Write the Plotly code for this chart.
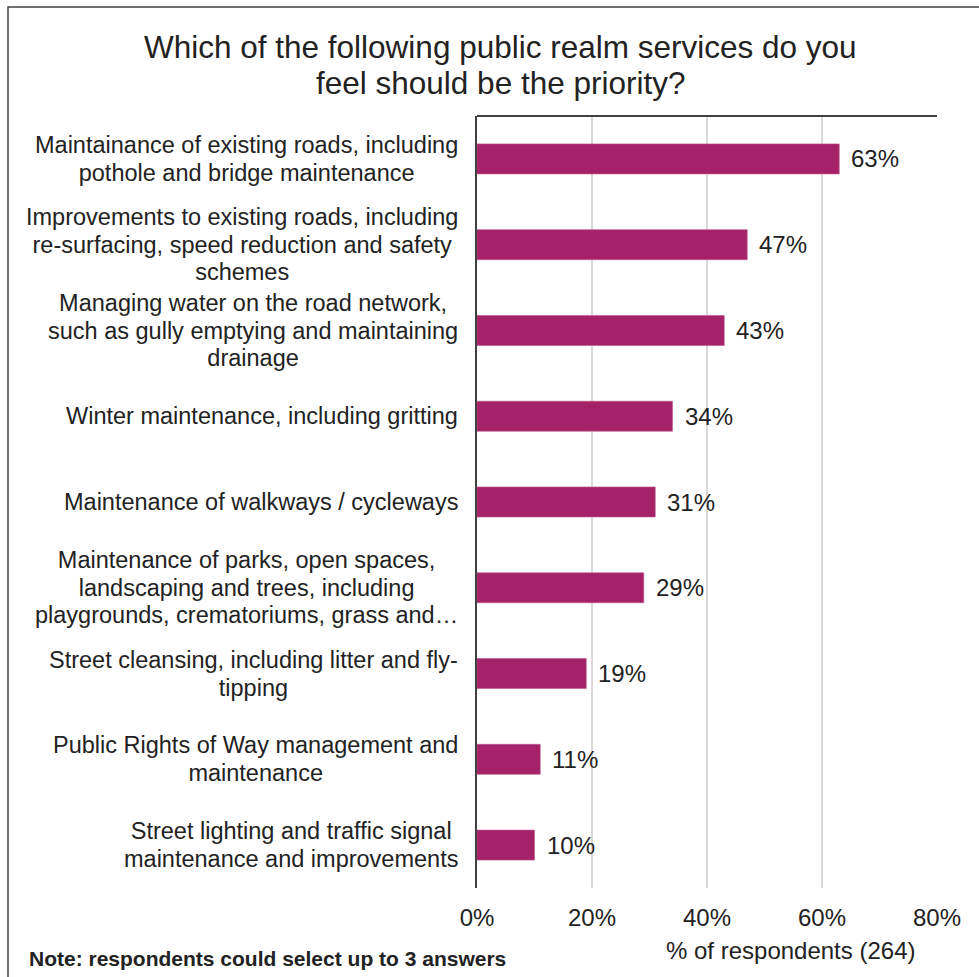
import plotly.graph_objects as go

# Survey results: share of respondents choosing each service as a priority
services = [
    "Maintainance of existing roads, including<br>pothole and bridge maintenance",
    "Improvements to existing roads, including<br>re-surfacing, speed reduction and safety<br>schemes",
    "Managing water on the road network,<br>such as gully emptying and maintaining<br>drainage",
    "Winter maintenance, including gritting",
    "Maintenance of walkways / cycleways",
    "Maintenance of parks, open spaces,<br>landscaping and trees, including<br>playgrounds, crematoriums, grass and…",
    "Street cleansing, including litter and fly-<br>tipping",
    "Public Rights of Way management and<br>maintenance",
    "Street lighting and traffic signal<br>maintenance and improvements",
]
percent = [63, 47, 43, 34, 31, 29, 19, 11, 10]

x_ticks = [0, 20, 40, 60, 80]
x_tick_labels = ["0%", "20%", "40%", "60%", "80%"]

title_lines = ["Which of the following public realm services do you",
               "feel should be the priority?"]
axis_title = "% of respondents (264)"
note_text = "<b>Note: respondents could select up to 3 answers</b>"

FONT = "Liberation Sans, Arial, sans-serif"
TEXT = "#222222"
BAR = "#A52269"
GRID = "#DDD8D8"
FRAME = "#404040"

W, H = 979, 977
L, R, T, B = 477, 42, 116, 89
PW, PH = W - L - R, H - T - B


def py(pixel_y):
    """Convert a page y position (pixels from top) to paper coordinates."""
    return (H - B - pixel_y) / PH


def px(pixel_x):
    """Convert a page x position (pixels from left) to paper coordinates."""
    return (pixel_x - L) / PW


fig = go.Figure()
fig.add_trace(go.Bar(
    x=percent,
    y=services,
    orientation="h",
    marker=dict(color=BAR, line=dict(color="#C0558F", width=0.6)),
    width=0.35,
    hoverinfo="skip",
))

annotations = []
LABEL_SIZE = 23.5
LABEL_STEP = 27.5
# Line spacing follows the annotation's base font size (1.3em), so the base
# size is set from the wanted spacing and the glyphs are enlarged per span.
BASE_SIZE = LABEL_STEP / 1.3
for s in services:
    styled = "<br>".join(
        f'<span style="font-size:{LABEL_SIZE}px">{line}</span>'
        for line in s.split("<br>")
    )
    annotations.append(dict(
        x=0, y=s, xref="x", yref="y", text=styled, showarrow=False,
        xanchor="right", yanchor="middle", align="center", xshift=-17,
        font=dict(family=FONT, size=BASE_SIZE, color=TEXT),
    ))

# value labels at the end of each bar
for s, v in zip(services, percent):
    annotations.append(dict(
        x=v, y=s, xref="x", yref="y", text=f"{v}%", showarrow=False,
        xanchor="left", yanchor="middle", xshift=10,
        font=dict(family=FONT, size=24, color=TEXT),
    ))
annotations.append(dict(
    x=px(790), y=py(950), xref="paper", yref="paper",
    text=axis_title, showarrow=False, xanchor="center", yanchor="middle",
    font=dict(family=FONT, size=24, color=TEXT),
))
annotations.append(dict(
    x=px(27), y=py(958), xref="paper", yref="paper",
    text=note_text, showarrow=False, xanchor="left", yanchor="middle",
    font=dict(family=FONT, size=21, color=TEXT),
))
for i, line in enumerate(title_lines):
    annotations.append(dict(
        x=px(500), y=py(47 + 36 * i), xref="paper", yref="paper",
        text=line, showarrow=False, xanchor="center", yanchor="middle",
        font=dict(family=FONT, size=31.5, color=TEXT),
    ))

shapes = [
    # outer chart frame (runs past the right and bottom edges)
    dict(type="rect", xref="paper", yref="paper",
         x0=px(8), x1=px(W + 20), y0=py(H + 20), y1=py(7),
         line=dict(color=FRAME, width=1.5), fillcolor="rgba(0,0,0,0)", layer="below"),
    # top edge of the plotting area
    dict(type="line", xref="paper", yref="paper", x0=0, x1=1, y0=1, y1=1,
         line=dict(color=FRAME, width=2)),
]

fig.update_layout(
    width=W, height=H,
    margin=dict(l=L, r=R, t=T, b=B),
    paper_bgcolor="white", plot_bgcolor="white",
    showlegend=False,
    annotations=annotations,
    shapes=shapes,
    font=dict(family=FONT, size=20, color=TEXT),
)
fig.update_xaxes(
    range=[0, 80], tickvals=x_ticks, ticktext=x_tick_labels,
    showgrid=True, gridcolor=GRID, gridwidth=2, zeroline=False,
    showline=False, ticks="outside", ticklen=8, tickcolor="rgba(0,0,0,0)",
    tickfont=dict(family=FONT, size=24, color=TEXT), fixedrange=True,
)
fig.update_yaxes(
    autorange="reversed", showticklabels=False, showgrid=False,
    showline=True, linecolor=FRAME, linewidth=1.5, ticks="", zeroline=False,
    fixedrange=True,
)

fig.write_html("out.html", config={"displayModeBar": False})
